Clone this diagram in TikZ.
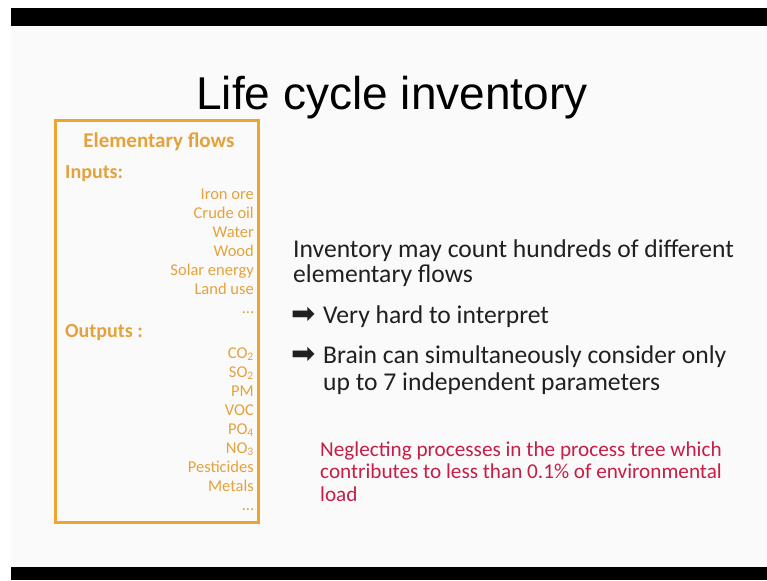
\documentclass[tikz,border=0pt]{standalone}
\usepackage{fontspec}
\setmainfont{Carlito}
\newfontfamily\titlefont{Liberation Sans}
\newfontfamily\arrowfont{DejaVu Sans}
\definecolor{flow}{RGB}{228,162,60}
\definecolor{boxline}{RGB}{238,164,48}
\definecolor{slide}{RGB}{250,250,250}
\definecolor{note}{RGB}{198,30,70}
\definecolor{body}{RGB}{32,32,32}

\begin{document}
\begin{tikzpicture}[x=1pt,y=-1pt,
  item/.style={anchor=base east,inner sep=0pt,text=flow,font=\fontsize{16.5}{18}\selectfont},
  head/.style={anchor=base west,inner sep=0pt,text=flow,font=\fontsize{20}{22}\selectfont\bfseries},
  line/.style={anchor=base west,inner sep=0pt,text=body,font=\fontsize{25.6}{28}\selectfont},
  notes/.style={anchor=base west,inner sep=0pt,text=note,font=\fontsize{21.2}{23}\selectfont},
  arrowmark/.style={anchor=base west,inner sep=0pt,text=body,font=\arrowfont\fontsize{29}{31}\selectfont}]
\useasboundingbox (0,0) rectangle (767,580);
\fill[white] (0,0) rectangle (767,580);
\fill[slide] (11,26) rectangle (767,567);
\fill[black] (11,8) rectangle (767,26);
\fill[black] (11,567) rectangle (767,580);

\node[anchor=base,inner sep=0pt,font=\titlefont\fontsize{46}{50}\selectfont] (title) at (392,110) {Life cycle inventory};

% elementary flows box
\draw[boxline,line width=3pt] (55,121) rectangle (258,522);
\node[anchor=base,inner sep=0pt,text=flow,font=\fontsize{21}{23}\selectfont\bfseries] (flows) at (159,148) {Elementary flows};
\node[head] (inputs) at (65,178) {Inputs:};
\foreach \name [count=\i] in {Iron ore,Crude oil,Water,Wood,Solar energy,Land use,\dots}
  \node[item] (in\i) at (254,{180+19*\i}) {\name};
\node[head] (outputs) at (65,337) {Outputs :};
\foreach \name [count=\i] in {CO\textsubscript{2},SO\textsubscript{2},PM,VOC,PO\textsubscript{4},NO\textsubscript{3},Pesticides,Metals,\dots}
  \node[item] (out\i) at (254,{339+19*\i}) {\name};

% right hand text
\node[line] (l1) at (293,257) {Inventory may count hundreds of different};
\node[line] (l2) at (293,282) {elementary flows};
\node[arrowmark] (a1) at (291,323) {➡};
\node[line] (l3) at (323,323) {Very hard to interpret};
\node[arrowmark] (a2) at (291,363) {➡};
\node[line] (l4) at (323,363) {Brain can simultaneously consider only};
\node[line] (l5) at (323,390) {up to 7 independent parameters};
\node[notes] (n1) at (320,456) {Neglecting processes in the process tree which};
\node[notes] (n2) at (320,478.5) {contributes to less than 0.1\% of environmental};
\node[notes] (n3) at (320,501) {load};
\end{tikzpicture}
\end{document}
